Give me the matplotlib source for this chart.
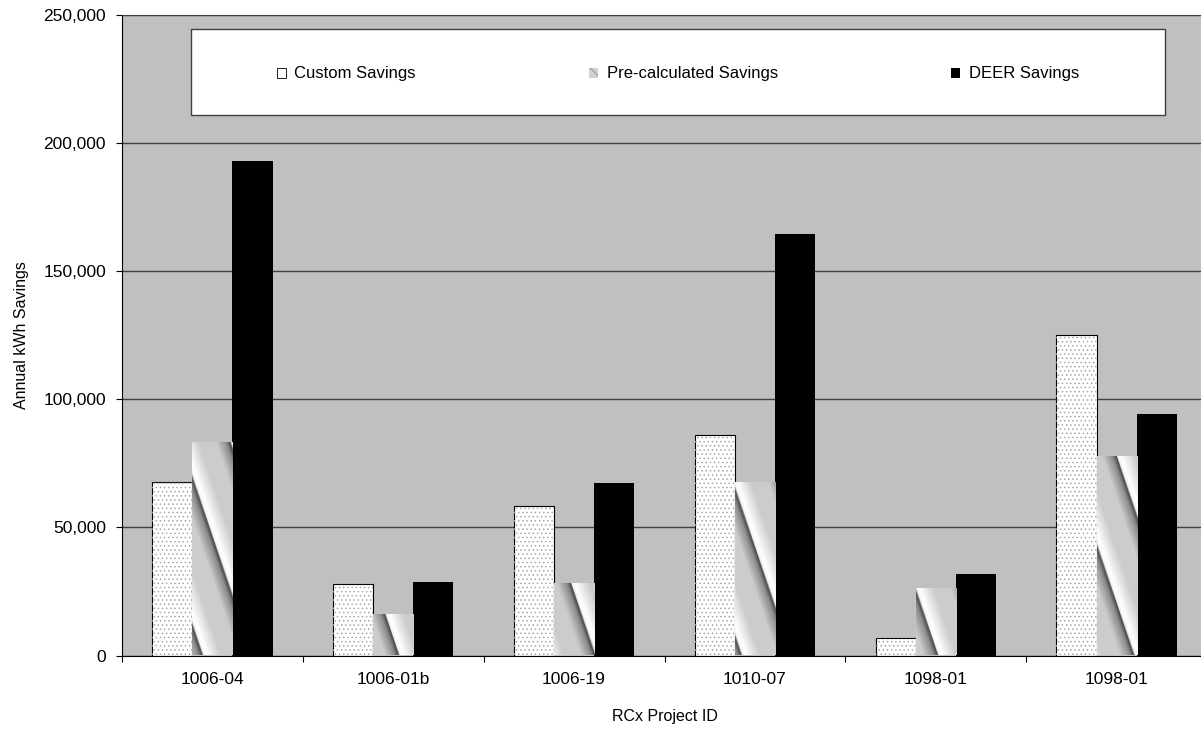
import numpy as np
import matplotlib
matplotlib.use("Agg")
import matplotlib.pyplot as plt
from matplotlib.patches import Patch, Rectangle
from matplotlib.ticker import FuncFormatter, FixedLocator, NullFormatter

plt.rcParams['font.family'] = ['Liberation Sans', 'DejaVu Sans']
plt.rcParams['hatch.linewidth'] = 0.6

# values (annual kWh)
projects = ['1006-04', '1006-01b', '1006-19', '1010-07', '1098-01', '1098-01']
custom = [67700, 28100, 58400, 85900, 6900, 125200]
precalc = [83200, 16300, 28400, 67700, 26400, 77900]
deer = [193100, 28600, 67200, 164600, 31800, 94100]
series_names = ['Custom Savings', 'Pre-calculated Savings', 'DEER Savings']

fig = plt.figure(figsize=(12.01, 7.38), dpi=100)
ax = fig.add_axes([121.8 / 1201, (738 - 655.5) / 738, 1085.4 / 1201, 640.5 / 738])
ax.set_facecolor('#C0C0C0')

x = np.arange(len(projects))
w = 1 / 4.5  # excel gap width 150%
ymax = 250000

# custom: white with grey dots
cb = ax.bar(x - w, custom, w, color='white', edgecolor='black', linewidth=0.8, zorder=2)
ax.bar(x - w, custom, w, color='none', edgecolor='#A8A8A8', hatch='....', linewidth=0, zorder=2.2)

# pre-calculated: chrome like diagonal gradient, clipped to each bar
pb = ax.bar(x, precalc, w, color='#C8C8C8', linewidth=0, zorder=2)
nx, ny = 1086, 641
xp, yp = np.meshgrid(np.arange(nx), np.arange(ny))
s = ((3.0 * xp + yp) / 147.0) % 1.0
prof_s = [0.0, 0.35, 0.55, 0.63, 0.655, 0.72, 1.0]
prof_v = [0.80, 0.80, 0.55, 0.28, 0.95, 1.0, 0.80]
tex = np.interp(s, prof_s, prof_v)
for p in pb.patches:
    im = ax.imshow(tex, cmap='gray', vmin=0, vmax=1, origin='lower',
                   extent=(-0.5, 5.5, 0, ymax), aspect='auto',
                   interpolation='bilinear', zorder=2.1)
    im.set_clip_path(p)

db = ax.bar(x + w, deer, w, color='black', linewidth=0, zorder=2)

ax.set_xlim(-0.5, 5.5)
ax.set_ylim(0, ymax)
ax.set_aspect('auto')

# axes / grid
ax.set_yticks(np.arange(0, ymax + 1, 50000))
ax.yaxis.set_major_formatter(FuncFormatter(lambda v, _: f'{int(v):,}'))
ax.yaxis.grid(True, color='#404040', linewidth=1.0)
ax.set_axisbelow(True)
ax.tick_params(axis='y', direction='out', length=4.3, width=0.8, pad=7,
               labelsize=12.5, color='black')

ax.xaxis.set_major_locator(FixedLocator(np.arange(-0.5, 5.6, 1)))
ax.xaxis.set_major_formatter(NullFormatter())
ax.xaxis.set_minor_locator(FixedLocator(x))
ax.set_xticklabels(projects, minor=True)
ax.tick_params(axis='x', which='major', direction='out', length=4, width=0.8, color='black')
ax.tick_params(axis='x', which='minor', length=0, pad=12, labelsize=12.5)

for side in ['left', 'bottom']:
    ax.spines[side].set_color('black')
    ax.spines[side].set_linewidth(0.8)
ax.spines['top'].set_color('#404040')
ax.spines['right'].set_visible(False)

ax.set_xlabel('RCx Project ID', fontsize=11.5, labelpad=16)
ax.set_ylabel('Annual kWh Savings', fontsize=11.5)
ax.yaxis.set_label_coords(-0.0855, 0.5)

# legend box
ax.add_patch(Rectangle((0.0635, 0.844), 0.8975, 0.134, transform=ax.transAxes,
                       facecolor='white', edgecolor='#404040', linewidth=1.0, zorder=5))
handles = [
    Patch(facecolor='white', edgecolor='black', linewidth=0.6),
    Patch(facecolor='#D0D0D0', edgecolor='#8C8C8C', hatch='\\\\\\', linewidth=0),
    Patch(facecolor='black', edgecolor='black', linewidth=0),
]
leg = ax.legend(handles, series_names, loc='center', bbox_to_anchor=(0.5124, 0.908),
                ncol=3, frameon=False, fontsize=12, handlelength=0.55, handleheight=0.55,
                handletextpad=0.5, columnspacing=10.4)
leg.set_zorder(6)

fig.savefig('out.png', dpi=100)
